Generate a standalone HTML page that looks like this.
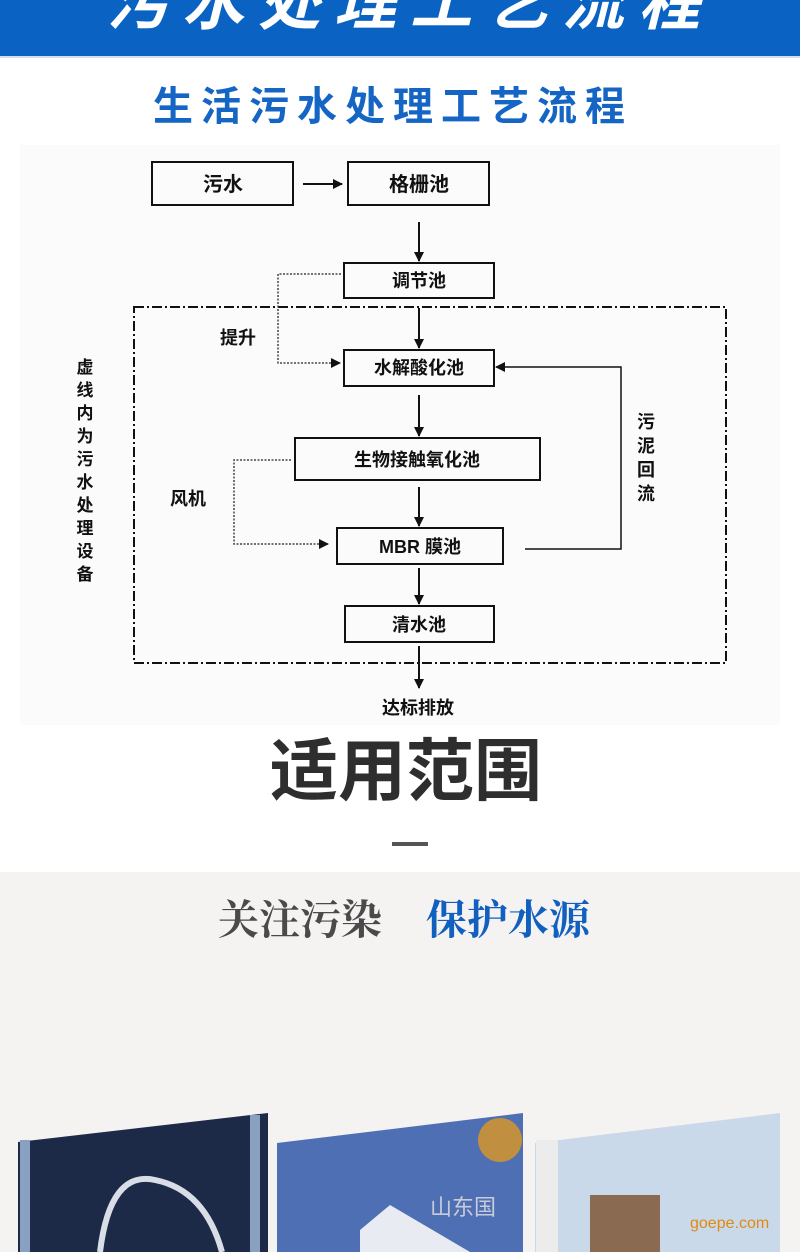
<!DOCTYPE html>
<html><head><meta charset="utf-8"><style>
html,body{margin:0;padding:0;width:800px;height:1252px;overflow:hidden;background:#fff}
svg{display:block}
.t{font-family:"Liberation Sans","Noto Sans CJK SC",sans-serif;font-weight:bold;fill:#111}
</style></head><body>
<svg width="800" height="1252" viewBox="0 0 800 1252" xmlns="http://www.w3.org/2000/svg">
<defs><marker id="a" markerWidth="10" markerHeight="10" refX="9" refY="5" orient="auto" markerUnits="userSpaceOnUse"><path d="M0,0 L10,5 L0,10 z" fill="#111"/></marker></defs>
<rect x="0" y="0" width="800" height="56" fill="#0a62c3"/>
<rect x="0" y="56" width="800" height="2" fill="#cfe0f3"/>
<text x="410" y="24" text-anchor="middle" font-size="62" class="t" style="fill:#fff;letter-spacing:14px" font-style="italic">污水处理工艺流程</text>
<text x="393" y="120" text-anchor="middle" font-size="40" class="t" style="fill:#1565c4;letter-spacing:8px">生活污水处理工艺流程</text>
<rect x="20" y="145" width="760" height="580" fill="#fbfbfb"/>
<g fill="none" stroke="#111" stroke-width="2">
<rect x="152" y="162" width="141" height="43"/>
<rect x="348" y="162" width="141" height="43"/>
<rect x="344" y="263" width="150" height="35"/>
<rect x="344" y="350" width="150" height="36"/>
<rect x="295" y="438" width="245" height="42"/>
<rect x="337" y="528" width="166" height="36"/>
<rect x="345" y="606" width="149" height="36"/>
<rect x="134" y="307" width="592" height="356" stroke-dasharray="10,3,2,3"/>
<line x1="303" y1="184" x2="342" y2="184" marker-end="url(#a)"/>
<line x1="419" y1="222" x2="419" y2="261" marker-end="url(#a)"/>
<line x1="419" y1="308" x2="419" y2="348" marker-end="url(#a)"/>
<line x1="419" y1="395" x2="419" y2="436" marker-end="url(#a)"/>
<line x1="419" y1="487" x2="419" y2="526" marker-end="url(#a)"/>
<line x1="419" y1="568" x2="419" y2="604" marker-end="url(#a)"/>
<line x1="419" y1="646" x2="419" y2="688" marker-end="url(#a)"/>
<polyline points="525,549 621,549 621,367 496,367" stroke-width="1.5" marker-end="url(#a)"/>
</g>
<g fill="none" stroke="#444" stroke-width="1.5" stroke-dasharray="2,1.5">
<polyline points="341,274 278,274 278,363 340,363" marker-end="url(#a)"/>
<polyline points="291,460 234,460 234,544 328,544" marker-end="url(#a)"/>
</g>
<g class="t" font-size="20" text-anchor="middle">
<text x="223" y="191">污水</text>
<text x="419" y="191">格栅池</text>
</g>
<g class="t" font-size="18" text-anchor="middle">
<text x="419" y="287">调节池</text>
<text x="419" y="374">水解酸化池</text>
<text x="417" y="466">生物接触氧化池</text>
<text x="420" y="553">MBR 膜池</text>
<text x="419" y="631">清水池</text>
<text x="238" y="344">提升</text>
<text x="188" y="505">风机</text>
<text x="418" y="714">达标排放</text>
</g>
<g class="t" font-size="18" text-anchor="middle">
<text x="646" y="428">污</text><text x="646" y="452">泥</text><text x="646" y="476">回</text><text x="646" y="500">流</text>
</g>
<g class="t" font-size="17" text-anchor="middle">
<text x="85" y="373">虚</text><text x="85" y="396">线</text><text x="85" y="419">内</text><text x="85" y="442">为</text><text x="85" y="465">污</text><text x="85" y="488">水</text><text x="85" y="511">处</text><text x="85" y="534">理</text><text x="85" y="557">设</text><text x="85" y="580">备</text>
</g>
<text x="406" y="795" text-anchor="middle" font-size="68" class="t" style="fill:#2e2e2e">适用范围</text>
<rect x="392" y="842" width="36" height="4" fill="#555"/>
<rect x="0" y="872" width="800" height="380" fill="#f5f2f2"/>
<text x="218" y="934" font-size="41" font-family="'Noto Serif CJK SC',serif" font-weight="bold" fill="#4a4a4a">关注污染</text>
<text x="426" y="934" font-size="41" font-family="'Noto Serif CJK SC',serif" font-weight="bold" fill="#1160c0">保护水源</text>
<polygon points="18,1142 268,1113 268,1252 18,1252" fill="#1c2a48"/>
<rect x="20" y="1140" width="10" height="112" fill="#8aa0c0"/>
<rect x="250" y="1115" width="10" height="137" fill="#8aa0c0"/>
<path d="M100,1252 Q110,1170 155,1180 Q205,1190 222,1252" fill="none" stroke="#d8dde6" stroke-width="6"/>
<polygon points="277,1143 523,1113 523,1252 277,1252" fill="#4f6fb5"/>
<polygon points="360,1230 390,1205 470,1252 360,1252" fill="#e8ecf2"/>
<circle cx="500" cy="1140" r="22" fill="#c09040"/>
<text x="430" y="1215" font-size="22" font-family="'Noto Sans CJK SC',sans-serif" fill="#c8ccd8">山东国</text>
<polygon points="535,1143 780,1113 780,1252 535,1252" fill="#c9d9ea"/>
<rect x="536" y="1140" width="22" height="112" fill="#ececec"/>
<rect x="590" y="1195" width="70" height="57" fill="#8a6a50"/>
<text x="690" y="1228" font-size="16" font-family="'Liberation Sans',sans-serif" fill="#e08a10">goepe.com</text>
</svg>
</body></html>
